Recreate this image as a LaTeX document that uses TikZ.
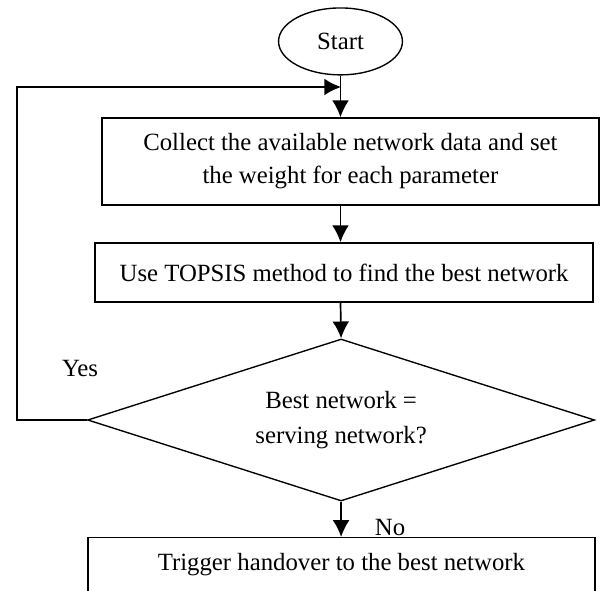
\documentclass[tikz,border=0pt]{standalone}
\usepackage{fontspec}
\setmainfont{Liberation Serif}
\usetikzlibrary{arrows.meta,shapes.geometric}
\tikzset{
  procbox/.style={draw, line width=1.3pt, inner sep=0pt, align=center},
  flowarrow/.style={line width=1.6pt, -{Latex[length=5.6mm,width=5.6mm]}},
}
\newcommand{\flowbox}[4]{node[procbox, minimum width=#1, minimum height=#2](#3) {#4}}

\begin{document}
\begin{tikzpicture}[font=\fontsize{23.5}{31}\selectfont]
\useasboundingbox (0,0) rectangle (20,-19.667);
\draw (11.35,-1.38) node[draw, ellipse, line width=1.3pt, minimum width=4.13cm, minimum height=2.23cm, inner sep=0pt](start) {Start};
\draw (11.68,-5.38) \flowbox{16.57cm}{2.9cm}{collect}{Collect the available network data and set\\the weight for each parameter};
\draw (11.47,-9.08) \flowbox{16.6cm}{1.97cm}{topsis}{Use TOPSIS method to find the best network};
\draw (11.37,-14.0) node[procbox, diamond, aspect=3.13, minimum width=16.9cm, minimum height=5.4cm, font=\fontsize{23.5}{34}\selectfont](same) {Best network =\\serving network?};
\draw (11.38,-17.9) node[procbox, anchor=north, minimum width=16.9cm, text height=1.1cm, text depth=1cm](handover) {Trigger handover to the best network};
\draw (2.67,-12.27) node(yes) {Yes};
\draw (13.0,-17.57) node(no) {No};
\coordinate (join) at (11.37,-2.9);
% main flow
\draw[flowarrow] (start.south) -- (start |- collect.north);
\draw[flowarrow] (start |- collect.south) -- (start |- topsis.north);
\draw[flowarrow] (start |- topsis.south) -- (same.north);
\draw[flowarrow] (same.south) -- (same |- handover.north);
% loop back
\draw[flowarrow] (same.west) -- ++(-2.33,0) |- (join);
\end{tikzpicture}
\end{document}
